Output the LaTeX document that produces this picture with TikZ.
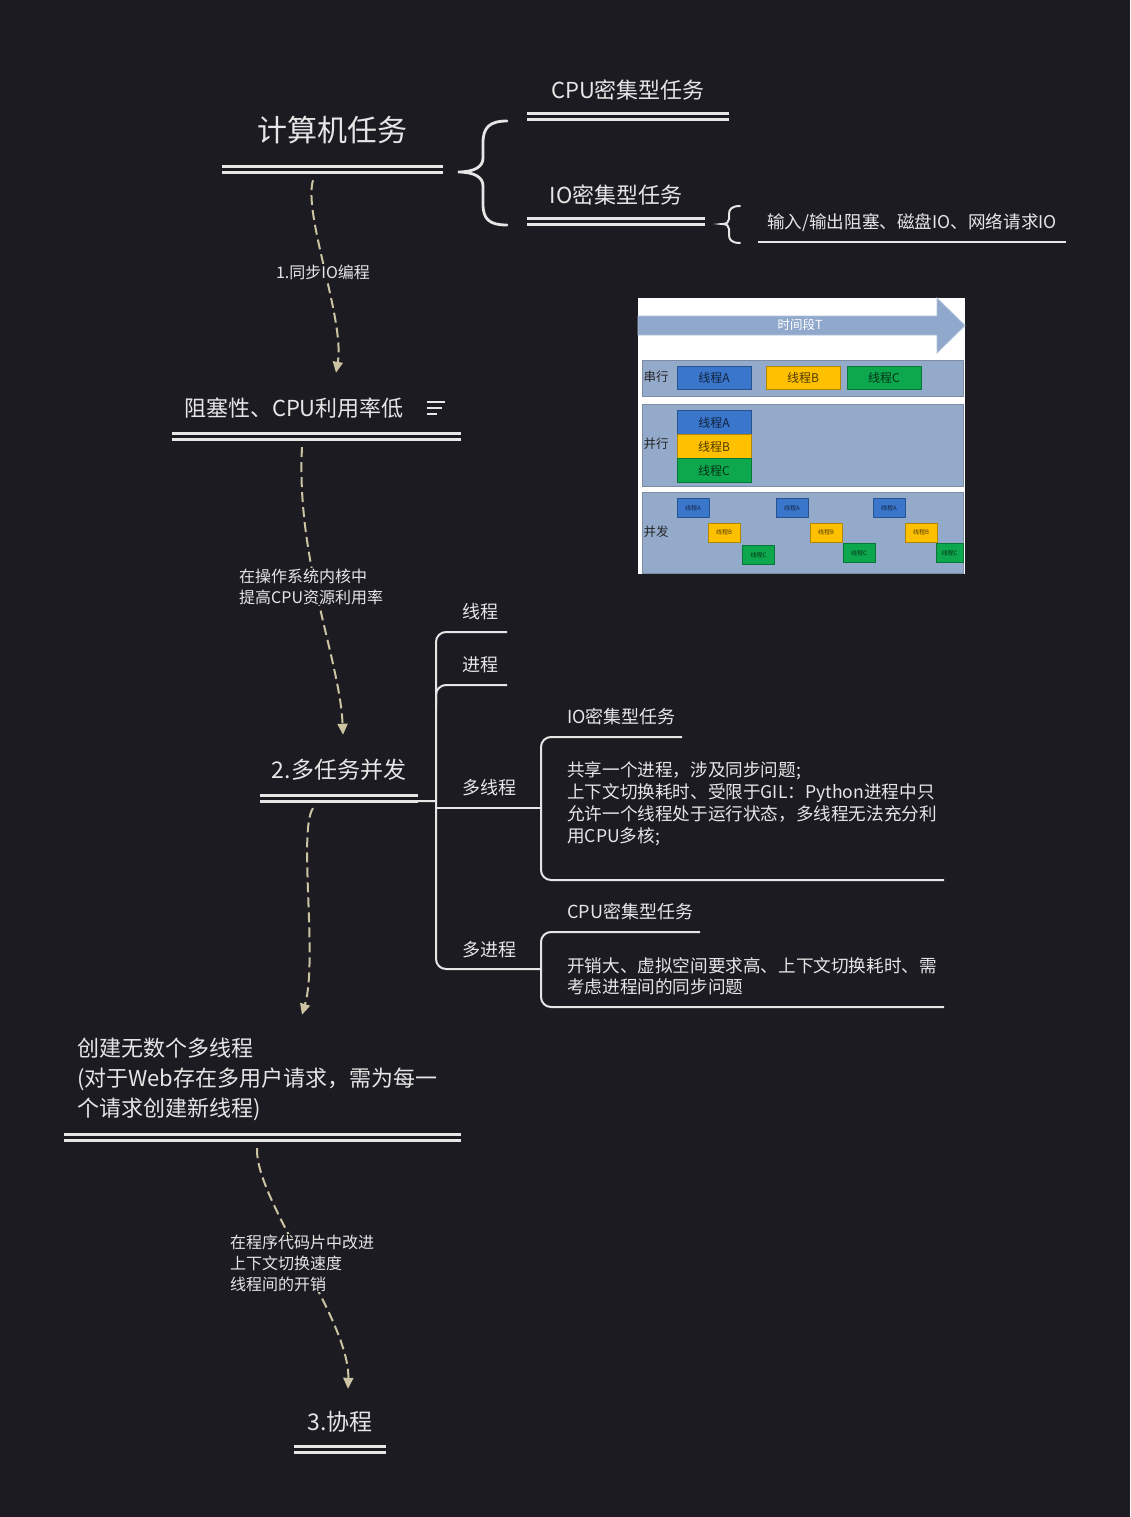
\documentclass[tikz,border=0pt]{standalone}
\usepackage{fontspec}
\setmainfont{Noto Sans CJK SC}
\usepackage{tikz}
\usetikzlibrary{arrows.meta,positioning,calc}
\definecolor{bgdark}{HTML}{1C1B21}
\definecolor{inkwhite}{HTML}{E6E6E6}
\definecolor{dashtan}{HTML}{CBC3A2}
\definecolor{panelblue}{HTML}{94AACB}
\definecolor{panelline}{HTML}{7D8CA3}
\definecolor{arrowblue}{HTML}{8FA8CC}
\definecolor{threadA}{HTML}{3A76CC}
\definecolor{threadB}{HTML}{FFC000}
\definecolor{threadC}{HTML}{0DA84E}
\tikzset{
  topic/.style={
    text=inkwhite, inner sep=0pt, align=center,
    font=\fontsize{22}{26}\selectfont,
    minimum width=#1, minimum height=56pt
  },
  topic/.default=150pt,
  dblline/.style={
    draw=inkwhite, line width=3pt, double=bgdark, double distance=3pt
  },
  flowarrow/.style={
    draw=dashtan, line width=2pt, dash pattern=on 10pt off 5pt,
    -{Triangle[length=11pt,width=10pt]}
  },
  flowlabel/.style={
    fill=bgdark, text=inkwhite, inner sep=1pt, align=left,
    font=\fontsize{16}{21}\selectfont
  },
  leaf/.style={
    text=inkwhite, inner sep=0pt, anchor=west, align=left,
    font=\fontsize{18}{22}\selectfont
  },
  branch/.style={draw=inkwhite, line width=2pt, rounded corners=10pt},
  brace/.style={draw=inkwhite, line width=2.8pt, line cap=round},
  panel/.style={fill=panelblue, draw=panelline, line width=1pt},
  panellabel/.style={text=black!85, inner sep=0pt, font=\fontsize{12.5}{14}\selectfont},
  threadbox/.style={
    draw=#1!70!black, fill=#1, text=#1!30!black, line width=0.8pt,
    minimum width=74pt, minimum height=23pt, inner sep=0pt,
    font=\fontsize{12}{13}\selectfont
  },
  tinybox/.style={
    threadbox=#1, minimum width=32pt, minimum height=19pt,
    font=\fontsize{6}{7}\selectfont
  },
}

\begin{document}
\begin{tikzpicture}[x=1pt, y=-1pt]

\path[fill=bgdark, use as bounding box] (0,0) rectangle (1130,1517);

% Root topic and its two kinds
\node[topic=221pt, minimum height=78pt, font=\fontsize{30}{34}\selectfont] (t1) at (332.5,130) {计算机任务};
\draw[dblline] (t1.south west) -- (t1.south east);

\node[topic=202pt, minimum height=53pt] (cpu) at (628,90) {CPU密集型任务};
\draw[dblline] (cpu.south west) -- (cpu.south east);
\node[topic=178pt, minimum height=52pt] (io) at (616,195) {IO密集型任务};
\draw[dblline] (io.south west) -- (io.south east);

\draw[brace] (507,121) .. controls (489,121) and (483,128) .. (483,143) -- (483,158)
  .. controls (483,167) and (474,172) .. (458,172)
  .. controls (474,172) and (483,177) .. (483,186) -- (483,204)
  .. controls (483,219) and (489,225) .. (507,225);

% IO detail
\node[topic=308pt, minimum height=38pt, font=\fontsize{17.6}{22}\selectfont] (iodet) at (912,223) {输入/输出阻塞、磁盘IO、网络请求IO};
\draw[draw=inkwhite, line width=2.5pt] (iodet.south west) -- (iodet.south east);
\draw[brace, line width=2pt] (740,206) .. controls (732,206) and (729,209) .. (729,214) -- (729,219)
  .. controls (729,222) and (727,224) .. (722,224)
  .. controls (727,224) and (729,226) .. (729,229) -- (729,235)
  .. controls (729,240) and (732,243) .. (740,243);

% Step 1
\node[topic=289pt, text width=265pt, align=left] (t2) at (316.5,408) {阻塞性、CPU利用率低};
\draw[dblline] (t2.south west) -- (t2.south east);
\draw[draw=inkwhite, line width=2pt] ([xshift=-34pt,yshift=6pt]t2.east) -- ++(18,0)
  ([xshift=-34pt]t2.east) -- ++(15,0)
  ([xshift=-34pt,yshift=-6pt]t2.east) -- ++(10,0);
\draw[flowarrow] ([xshift=-19.5pt,yshift=-11pt]t1.south) .. controls (303,215) and (345,320) .. ([xshift=19.5pt,yshift=7pt]t2.north);
\node[flowlabel] (lab1) at (323,272) {1.同步IO编程};

% Step 2
\node[topic=158pt, font=\fontsize{23}{26}\selectfont] (t3) at (339,770) {2.多任务并发};
\draw[dblline] (t3.south west) -- (t3.south east);
\draw[flowarrow] ([xshift=-14.5pt,yshift=-11pt]t2.south) .. controls (296,560) and (340,660) .. ([xshift=4pt,yshift=7pt]t3.north);
\node[flowlabel, anchor=west] (lab2) at (238,586.5) {在操作系统内核中\\提高CPU资源利用率};

% Branches of step 2
\coordinate (trunk) at (436,801);
\node[leaf] (br1) at (462,612) {线程};
\node[leaf] (br2) at (462,665) {进程};
\node[leaf] (br3) at (462,788) {多线程};
\node[leaf] (br4) at (462,950) {多进程};
\draw[branch] ([yshift=-3pt]t3.south east) -- (trunk);
\draw[branch] (507,632) -- (trunk |- 0,632) -- (trunk |- 0,969) -- (541,969);
\draw[branch] (507,685) -- (trunk |- 0,685) -- (trunk |- 0,705);
\draw[branch] (trunk |- 0,808) -- (541,808);

% Multi-thread
\node[leaf] (sub1) at (567,717) {IO密集型任务};
\node[leaf, font=\fontsize{17.6}{22}\selectfont] (desc1) at (567,803.5) {共享一个进程，涉及同步问题;\\上下文切换耗时、受限于GIL：Python进程中只\\允许一个线程处于运行状态，多线程无法充分利\\用CPU多核;};
\draw[branch] (682,737) -- (541,737) -- (541,880) -- (944,880);

% Multi-process
\node[leaf] (sub2) at (567,912) {CPU密集型任务};
\node[leaf, font=\fontsize{17.6}{21.5}\selectfont] (desc2) at (567,976.5) {开销大、虚拟空间要求高、上下文切换耗时、需\\考虑进程间的同步问题};
\draw[branch] (700,932) -- (541,932) -- (541,1007) -- (944,1007);

% Step 3
\node[topic=397pt, minimum height=116pt, text width=371pt, align=left, font=\fontsize{22}{30}\selectfont] (t4) at (262.5,1079) {创建无数个多线程\\(对于Web存在多用户请求，需为每一\\个请求创建新线程)};
\draw[dblline] (t4.south west) -- (t4.south east);
\draw[flowarrow] ([xshift=-26pt,yshift=-10pt]t3.south) .. controls (298,830) and (318,960) .. ([xshift=39.5pt,yshift=6pt]t4.north);

\node[topic=92pt, minimum height=54pt, font=\fontsize{23}{26}\selectfont] (t5) at (340,1422) {3.协程};
\draw[dblline] (t5.south west) -- (t5.south east);
\draw[flowarrow] ([xshift=-5.5pt,yshift=-11pt]t4.south) .. controls (255,1200) and (350,1320) .. ([xshift=8pt,yshift=6pt]t5.north);
\node[flowlabel, anchor=west] (lab4) at (229,1263) {在程序代码片中改进\\上下文切换速度\\线程间的开销};

% Serial / parallel / concurrent picture
\fill[white] (638,298) rectangle (965,574);
\draw[fill=arrowblue, draw=arrowblue!70!white, line width=0.8pt] (638,316) -- (937,316) -- (937,298)
  -- (965,325.5) -- (937,353) -- (937,335) -- (638,335) -- cycle;
\node[text=white, inner sep=0pt, font=\fontsize{12.5}{14}\selectfont] (span) at (800,325) {时间段T};

\draw[panel] (642,360) rectangle (963,396);
\draw[panel] (642,404) rectangle (963,486);
\draw[panel] (642,492) rectangle (963,573);
\node[panellabel] (serial) at (656,377) {串行};
\node[panellabel] (parallel) at (656,444) {并行};
\node[panellabel] (concur) at (656,532) {并发};

\node[threadbox=threadA] (sa) at (714,377.5) {线程A};
\node[threadbox=threadB] (sb) at (803,377.5) {线程B};
\node[threadbox=threadC] (sc) at (884,377.5) {线程C};

\node[threadbox=threadA, minimum height=24pt] (pa) at (714,422.5) {线程A};
\node[threadbox=threadB, minimum height=24pt] (pb) at (714,446.5) {线程B};
\node[threadbox=threadC, minimum height=24pt] (pc) at (714,470.5) {线程C};

\node[tinybox=threadA] (ca1) at (693,508) {线程A};
\node[tinybox=threadA] (ca2) at (792,508) {线程A};
\node[tinybox=threadA] (ca3) at (889,508) {线程A};
\node[tinybox=threadB] (cb1) at (724,532.5) {线程B};
\node[tinybox=threadB] (cb2) at (826,532.5) {线程B};
\node[tinybox=threadB] (cb3) at (921,532.5) {线程B};
\node[tinybox=threadC] (cc1) at (758.5,555) {线程C};
\node[tinybox=threadC] (cc2) at (859,553) {线程C};
\node[tinybox=threadC, minimum width=27pt] (cc3) at (949.5,553) {线程C};

\end{tikzpicture}
\end{document}
